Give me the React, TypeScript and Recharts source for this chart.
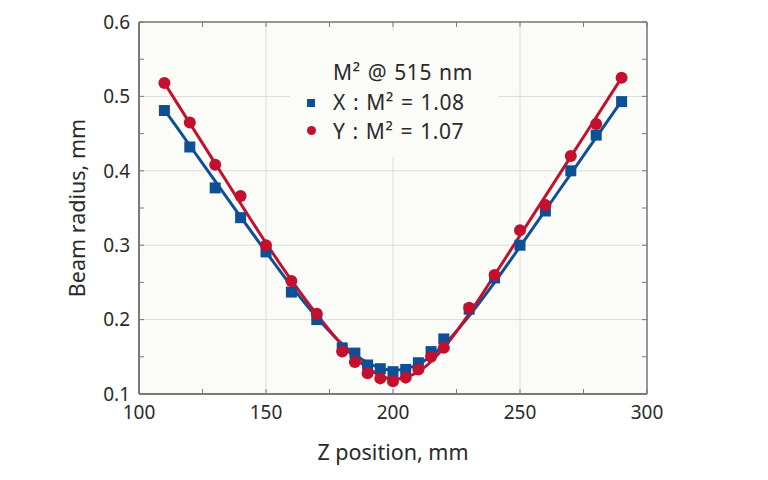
import {
  ComposedChart,
  Line,
  Scatter,
  XAxis,
  YAxis,
  CartesianGrid,
} from "recharts";

// measured beam radius (mm) vs z position (mm)
const zPositions = [
  110, 120, 130, 140, 150, 160, 170, 180, 185, 190, 195, 200, 205, 210, 215,
  220, 230, 240, 250, 260, 270, 280, 290,
];
const xRadius = [
  0.481, 0.432, 0.377, 0.337, 0.291, 0.237, 0.2, 0.162, 0.155, 0.139, 0.134,
  0.13, 0.133, 0.142, 0.157, 0.174, 0.214, 0.256, 0.3, 0.346, 0.4, 0.448, 0.493,
];
const yRadius = [
  0.518, 0.465, 0.408, 0.366, 0.3, 0.252, 0.208, 0.157, 0.143, 0.128, 0.121,
  0.117, 0.122, 0.133, 0.15, 0.162, 0.216, 0.26, 0.32, 0.354, 0.42, 0.463,
  0.525,
];

// fitted caustic curves
const fitZ = [
  110, 120, 130, 140, 150, 160, 170, 180, 190, 200, 210, 220, 230, 240, 250,
  260, 270, 280, 290,
];
const fitX = [
  0.482, 0.434, 0.386, 0.338, 0.291, 0.245, 0.203, 0.167, 0.142, 0.132, 0.14,
  0.166, 0.205, 0.25, 0.298, 0.347, 0.396, 0.445, 0.494,
];
const fitY = [
  0.518, 0.464, 0.41, 0.356, 0.303, 0.253, 0.207, 0.166, 0.135, 0.12, 0.13,
  0.162, 0.208, 0.26, 0.313, 0.366, 0.419, 0.472, 0.525,
];

const xTicks = [100, 150, 200, 250, 300];
const yTicks = [0.1, 0.2, 0.3, 0.4, 0.5, 0.6];
const xMinor = [100, 125, 150, 175, 200, 225, 250, 275, 300];
const yMinor = [0.1, 0.15, 0.2, 0.25, 0.3, 0.35, 0.4, 0.45, 0.5, 0.55, 0.6];

const legendTitle = "M² @ 515 nm";
const legendX = "X : M² = 1.08";
const legendY = "Y : M² = 1.07";

const BLUE = "#0e5096";
const RED = "#c4102f";
const FONT = "'Noto Sans', sans-serif";
const TEXT = "#2a2a2a";
const AXIS = "#7a7a7a";
const BG = "#fbfbf8";

const pts = (zs: number[], rs: number[]) => zs.map((z, i) => ({ z, r: rs[i] }));

const Square = (props: any) => (
  <rect x={props.cx - 5.5} y={props.cy - 5.5} width={11} height={11} fill={BLUE} />
);
const Dot = (props: any) => <circle cx={props.cx} cy={props.cy} r={6} fill={RED} />;

const tickStyle = { fontSize: 19, fontFamily: FONT, fill: TEXT };
const titleStyle = { fontSize: 21.5, fontFamily: FONT, fill: TEXT };

const row = {
  position: "absolute" as const,
  left: 43,
  lineHeight: "26px",
  whiteSpace: "nowrap" as const,
  letterSpacing: 0.6,
  wordSpacing: 1,
};

const App: React.FC = () => {
  return (
    <div style={{ position: "absolute", left: 0, top: 0, width: 768, height: 480, background: "#fff" }}>
      <ComposedChart
        width={768}
        height={480}
        margin={{ top: 22, right: 121, bottom: 16, left: 15 }}
      >
        <CartesianGrid fill={BG} fillOpacity={1} stroke="#dcdcdc" strokeWidth={1} />
        <XAxis
          dataKey="z"
          type="number"
          domain={[100, 300]}
          ticks={xTicks}
          allowDataOverflow
          height={70}
          tickLine={false}
          tickSize={6}
          tickMargin={6}
          axisLine={{ stroke: AXIS, strokeWidth: 2 }}
          tick={tickStyle}
          label={{
            value: "Z position, mm",
            position: "insideBottom",
            offset: 4,
            style: titleStyle,
          }}
        />
        <XAxis
          xAxisId="top"
          dataKey="z"
          type="number"
          orientation="top"
          mirror
          domain={[100, 300]}
          ticks={xMinor}
          allowDataOverflow
          tickSize={5}
          tickFormatter={() => ""}
          tickLine={{ stroke: AXIS }}
          axisLine={{ stroke: AXIS, strokeWidth: 1.5 }}
        />
        <XAxis
          xAxisId="bottomMinor"
          dataKey="z"
          type="number"
          orientation="bottom"
          mirror
          domain={[100, 300]}
          ticks={xMinor}
          allowDataOverflow
          tickSize={5}
          tickFormatter={() => ""}
          tickLine={{ stroke: AXIS }}
          axisLine={false}
        />
        <YAxis
          type="number"
          domain={[0.1, 0.6]}
          ticks={yTicks}
          allowDataOverflow
          width={124}
          tickLine={false}
          tickSize={6}
          tickMargin={3}
          tickFormatter={(v: number) => v.toFixed(1)}
          axisLine={{ stroke: AXIS, strokeWidth: 2 }}
          tick={tickStyle}
          label={{
            value: "Beam radius, mm",
            angle: -90,
            position: "center",
            style: titleStyle,
          }}
        />
        <YAxis
          yAxisId="leftMinor"
          type="number"
          orientation="left"
          mirror
          domain={[0.1, 0.6]}
          ticks={yMinor}
          allowDataOverflow
          tickSize={5}
          tickFormatter={() => ""}
          tickLine={{ stroke: AXIS }}
          axisLine={false}
        />
        <YAxis
          yAxisId="right"
          type="number"
          orientation="right"
          mirror
          domain={[0.1, 0.6]}
          ticks={yMinor}
          allowDataOverflow
          tickSize={5}
          tickFormatter={() => ""}
          tickLine={{ stroke: AXIS }}
          axisLine={{ stroke: AXIS, strokeWidth: 1.5 }}
        />
        <Line
          data={pts(fitZ, fitX)}
          dataKey="r"
          type="monotone"
          stroke={BLUE}
          strokeWidth={3}
          dot={false}
          isAnimationActive={false}
        />
        <Line
          data={pts(fitZ, fitY)}
          dataKey="r"
          type="monotone"
          stroke={RED}
          strokeWidth={3}
          dot={false}
          isAnimationActive={false}
        />
        <Scatter
          data={pts(zPositions, xRadius)}
          dataKey="r"
          shape={Square}
          isAnimationActive={false}
        />
        <Scatter
          data={pts(zPositions, yRadius)}
          dataKey="r"
          shape={Dot}
          isAnimationActive={false}
        />
      </ComposedChart>

      {/* legend box, sits over the grid */}
      <div
        style={{
          position: "absolute",
          left: 290,
          top: 30,
          width: 208,
          height: 127,
          background: BG,
          fontFamily: FONT,
          fontSize: 21,
          color: TEXT,
        }}
      >
        <div style={{ ...row, top: 29 }}>{legendTitle}</div>
        <div style={{ position: "absolute", left: 17, top: 69, width: 8, height: 8, background: BLUE }} />
        <div style={{ ...row, top: 59 }}>{legendX}</div>
        <div
          style={{ position: "absolute", left: 16.5, top: 95.5, width: 9, height: 9, borderRadius: "50%", background: RED }}
        />
        <div style={{ ...row, top: 88 }}>{legendY}</div>
      </div>
    </div>
  );
};

export default App;
